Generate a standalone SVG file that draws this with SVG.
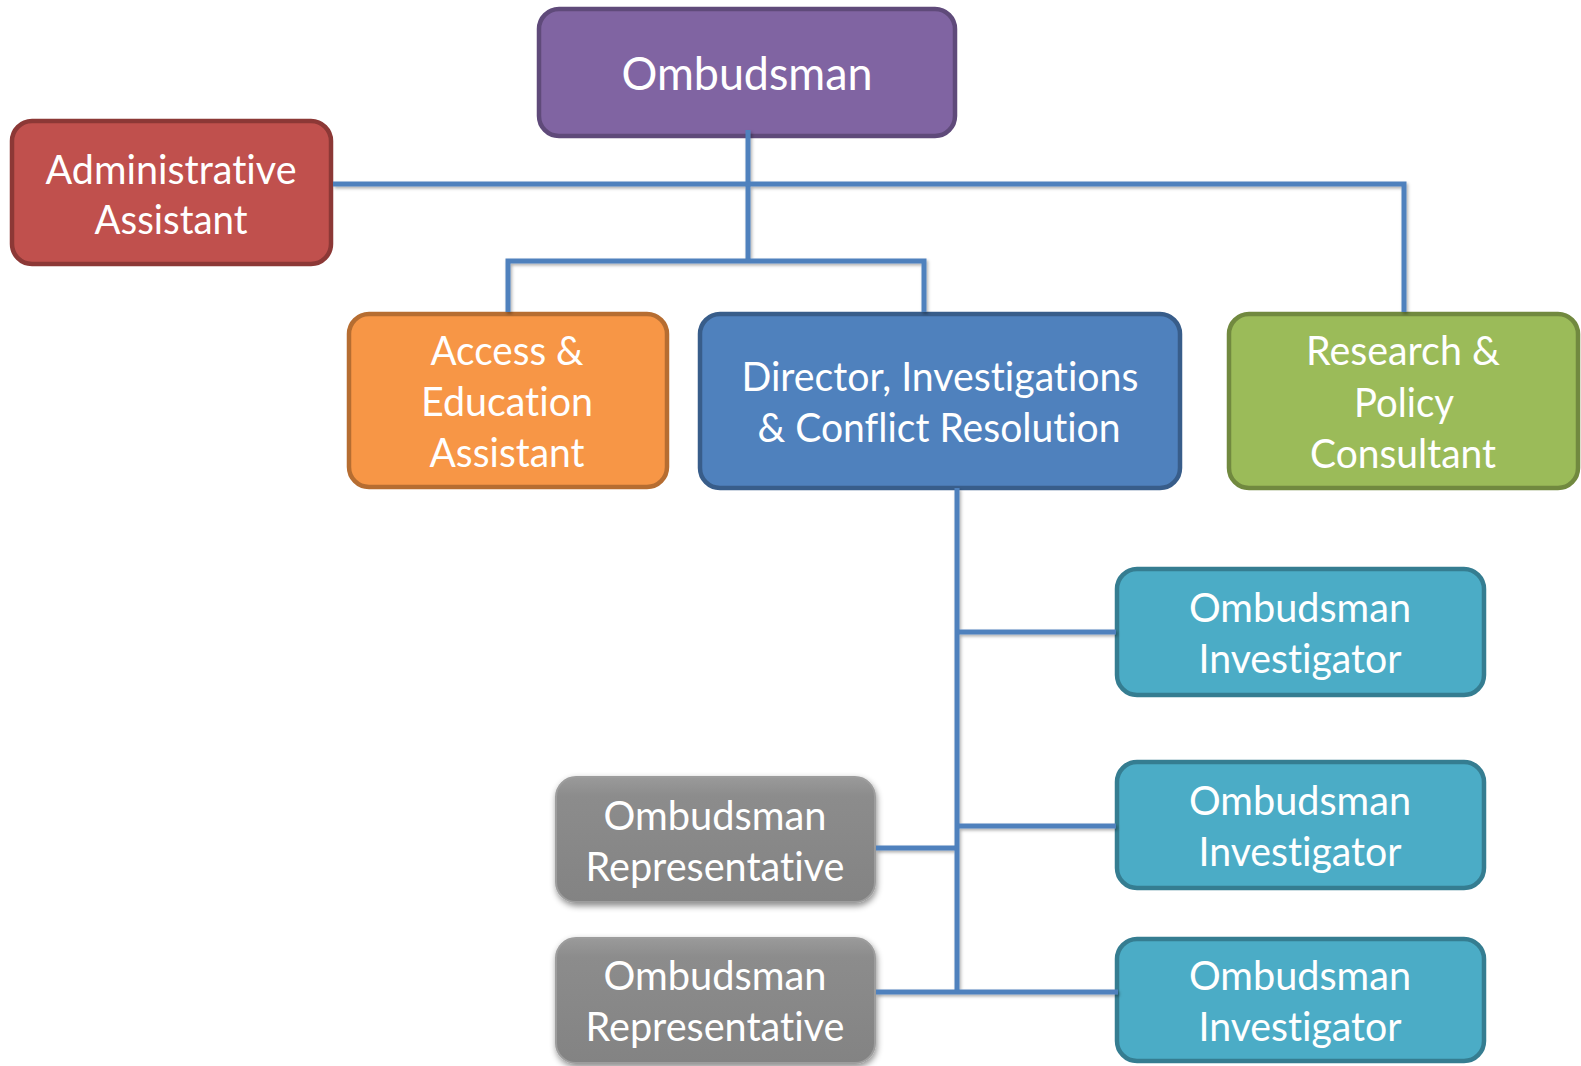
<svg xmlns="http://www.w3.org/2000/svg" width="1581" height="1066" viewBox="0 0 1581 1066">
<defs>
<filter id="lsh" x="-5%" y="-5%" width="110%" height="110%">
<feDropShadow dx="1.5" dy="2" stdDeviation="1.5" flood-color="#000" flood-opacity="0.3"/>
</filter>
<filter id="bsh" x="-10%" y="-10%" width="120%" height="125%">
<feDropShadow dx="1" dy="3" stdDeviation="3" flood-color="#000" flood-opacity="0.45"/>
</filter>
<linearGradient id="grey" x1="0" y1="0" x2="0" y2="1">
<stop offset="0" stop-color="#9a9a9a"/>
<stop offset="0.15" stop-color="#8c8c8c"/>
<stop offset="1" stop-color="#838383"/>
</linearGradient>
<style>
.box{stroke-width:4.5}
.t{font-family:Lato,"Open Sans",sans-serif;font-size:41px;fill:#fff;text-anchor:middle;font-variant-ligatures:none;font-feature-settings:"liga" 0,"clig" 0}
.big{font-size:46px}
.purple{fill:#8064A2;stroke:#5F4A7A}
.red{fill:#C0504D;stroke:#8C3836}
.orange{fill:#F79646;stroke:#B66D31}
.blue{fill:#4F81BD;stroke:#385D8A}
.green{fill:#9BBB59;stroke:#71893F}
.aqua{fill:#4BACC6;stroke:#357D91}
.grey{fill:url(#grey);stroke:#9d9d9d;stroke-width:2}
.c{fill:none;stroke:#4F81BD;stroke-width:5}
</style>
</defs>
<g id="node-ombudsman">
<rect class="box purple" x="539" y="9" width="416" height="127" rx="20"/>
<text class="t big" x="747" y="90" textLength="251" lengthAdjust="spacingAndGlyphs">Ombudsman</text>
</g>
<g id="node-admin">
<rect class="box red" x="12" y="121" width="319" height="143" rx="20"/>
<text class="t" x="171" y="184" textLength="251" lengthAdjust="spacingAndGlyphs">Administrative</text>
<text class="t" x="171" y="234" textLength="153" lengthAdjust="spacingAndGlyphs">Assistant</text>
</g>
<g id="node-access">
<rect class="box orange" x="349" y="314" width="318" height="173" rx="20"/>
<text class="t" x="507" y="365" textLength="153" lengthAdjust="spacingAndGlyphs">Access &amp;</text>
<text class="t" x="507" y="416" textLength="172" lengthAdjust="spacingAndGlyphs">Education</text>
<text class="t" x="507" y="467" textLength="155" lengthAdjust="spacingAndGlyphs">Assistant</text>
</g>
<g id="node-director">
<rect class="box blue" x="700" y="314" width="480" height="174" rx="20"/>
<text class="t" x="940" y="391" textLength="397" lengthAdjust="spacingAndGlyphs">Director, Investigations</text>
<text class="t" x="939" y="442" textLength="363" lengthAdjust="spacingAndGlyphs">&amp; Conflict Resolution</text>
</g>
<g id="node-research">
<rect class="box green" x="1229" y="314" width="349" height="174" rx="20"/>
<text class="t" x="1403" y="365" textLength="194" lengthAdjust="spacingAndGlyphs">Research &amp;</text>
<text class="t" x="1404" y="417" textLength="100" lengthAdjust="spacingAndGlyphs">Policy</text>
<text class="t" x="1403" y="468" textLength="186" lengthAdjust="spacingAndGlyphs">Consultant</text>
</g>
<g id="node-investigator-1">
<rect class="box aqua" x="1117" y="569" width="367" height="126" rx="20"/>
<text class="t" x="1300" y="622" textLength="222" lengthAdjust="spacingAndGlyphs">Ombudsman</text>
<text class="t" x="1300" y="673" textLength="203" lengthAdjust="spacingAndGlyphs">Investigator</text>
</g>
<g id="node-investigator-2">
<rect class="box aqua" x="1117" y="762" width="367" height="126" rx="20"/>
<text class="t" x="1300" y="815" textLength="222" lengthAdjust="spacingAndGlyphs">Ombudsman</text>
<text class="t" x="1300" y="866" textLength="203" lengthAdjust="spacingAndGlyphs">Investigator</text>
</g>
<g id="node-investigator-3">
<rect class="box aqua" x="1117" y="939" width="367" height="122" rx="20"/>
<text class="t" x="1300" y="990" textLength="222" lengthAdjust="spacingAndGlyphs">Ombudsman</text>
<text class="t" x="1300" y="1041" textLength="203" lengthAdjust="spacingAndGlyphs">Investigator</text>
</g>
<g id="node-representative-1">
<rect class="grey" x="556" y="777" width="319" height="125" rx="20" filter="url(#bsh)"/>
<text class="t" x="715" y="830" textLength="223" lengthAdjust="spacingAndGlyphs">Ombudsman</text>
<text class="t" x="715" y="881" textLength="259" lengthAdjust="spacingAndGlyphs">Representative</text>
</g>
<g id="node-representative-2">
<rect class="grey" x="556" y="938" width="319" height="125" rx="20" filter="url(#bsh)"/>
<text class="t" x="715" y="990" textLength="223" lengthAdjust="spacingAndGlyphs">Ombudsman</text>
<text class="t" x="715" y="1041" textLength="259" lengthAdjust="spacingAndGlyphs">Representative</text>
</g>
<g id="connectors" filter="url(#lsh)">
<path class="c" d="M748 130 V261"/>
<path class="c" d="M333 184 H1404 V312"/>
<path class="c" d="M508 312 V261 H924 V312"/>
<path class="c" d="M957 488 V994"/>
<path class="c" d="M957 632 H1116"/>
<path class="c" d="M957 826 H1116"/>
<path class="c" d="M876 848 H957"/>
<path class="c" d="M876 992 H1118"/>
</g>
</svg>
